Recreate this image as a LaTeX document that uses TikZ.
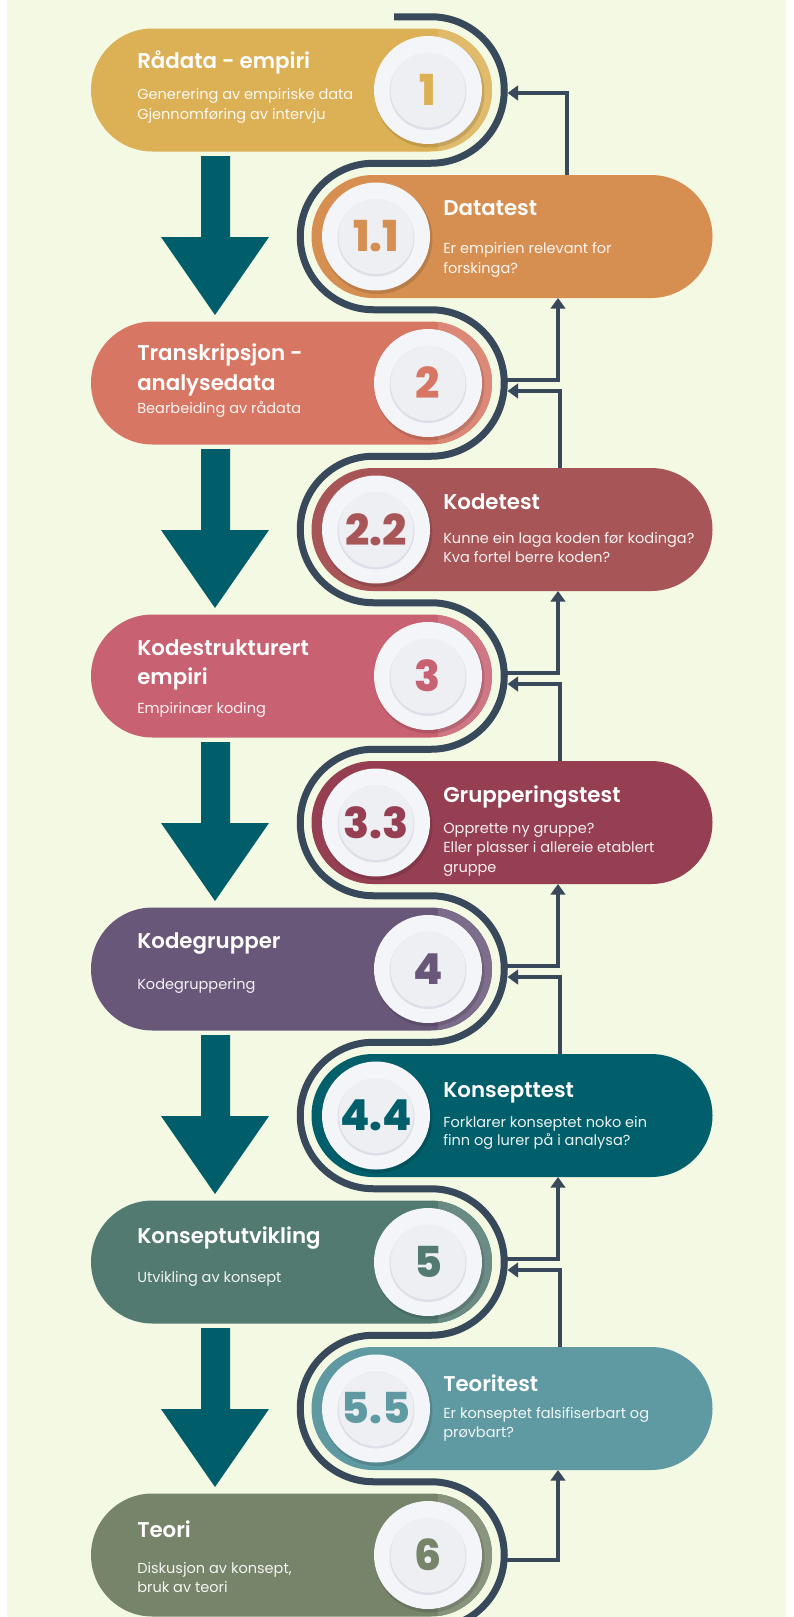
\documentclass[tikz,border=0pt]{standalone}
\usepackage{fontspec}
\setmainfont{Poppins}[BoldFont={Poppins SemiBold}]
\newfontfamily\numfont{Poppins ExtraBold}
\usetikzlibrary{arrows.meta,shapes.misc}
\definecolor{bg}{HTML}{F3F9E3}
\definecolor{lc}{HTML}{37495B}
\definecolor{arr}{HTML}{005E6A}
\definecolor{cA}{HTML}{DCB055}
\definecolor{cAA}{HTML}{D68F51}
\definecolor{cB}{HTML}{D77663}
\definecolor{cBB}{HTML}{A85557}
\definecolor{cC}{HTML}{C86172}
\definecolor{cCC}{HTML}{963F53}
\definecolor{cD}{HTML}{69577A}
\definecolor{cDD}{HTML}{005F6B}
\definecolor{cE}{HTML}{537A71}
\definecolor{cEE}{HTML}{5F9AA2}
\definecolor{cF}{HTML}{76846A}
\definecolor{plate}{HTML}{F4F5F8}
\definecolor{plin}{HTML}{EDEFF3}
\definecolor{plsh}{HTML}{DDDFE8}
\newcommand\drawplate[5]{%
  \fill[black,opacity=0.12] (#1+1.5,#2+2.5) circle (55);
  \fill[plate] (#1,#2) circle (54);
  \fill[plsh] (#1,#2+1.5) circle (38.5);
  \fill[plin] (#1,#2) circle (37.5);
  \node[num=#5] (#3) at (#1,#2) {#4};
}
\tikzset{
  pill/.style={rounded rectangle, minimum width=300.75pt, minimum height=92.25pt, inner sep=0pt, fill=#1},
  mainpill/.style={pill=#1, path picture={\shade[left color=#1, right color=#1!86!white] ([xshift=-40pt,yshift=2pt]path picture bounding box.north east) rectangle ([yshift=-2pt]path picture bounding box.south east);}},
  serp/.style={draw=lc, line width=5.25pt},
  conn/.style={draw=lc, line width=3pt},
  tip/.style={-{Triangle[width=11pt,length=8pt]}},
  ttl/.style={anchor=base west, inner sep=0pt, text=white, font=\bfseries\fontsize{16}{20}\selectfont},
  bdy/.style={anchor=base west, inner sep=0pt, text=white, text opacity=0.92, font=\fontsize{10.9}{15}\selectfont},
  num/.style={inner sep=0pt, text=#1, font=\numfont\fontsize{32}{32}\selectfont},
}
\begin{document}
\begin{tikzpicture}[x=0.75pt,y=-0.75pt]
\useasboundingbox (0,0) rectangle (793,1617);
\clip (0,0) rectangle (793,1617);
\fill[white] (0,0) rectangle (793,1617);
\fill[bg] (7,0) rectangle (786,1617);

% serpentine
\draw[serp] (394,16.75) -- (431,16.75)
  \foreach \i in {0,...,4} { arc[start angle=-90,end angle=90,radius=73.25] -- ++(-57.5,0) arc[start angle=270,end angle=90,radius=73.25] -- ++(57.5,0) }
  arc[start angle=-90,end angle=90,radius=73.25];

% pills
\node[mainpill=cA] (m1) at (291.5,90) {};
\node[pill=cAA] (t1) at (512,236.5) {};
\node[mainpill=cB] (m2) at (291.5,383) {};
\node[pill=cBB] (t2) at (512,529.5) {};
\node[mainpill=cC] (m3) at (291.5,676) {};
\node[pill=cCC] (t3) at (512,822.5) {};
\node[mainpill=cD] (m4) at (291.5,969) {};
\node[pill=cDD] (t4) at (512,1115.5) {};
\node[mainpill=cE] (m5) at (291.5,1262) {};
\node[pill=cEE] (t5) at (512,1408.5) {};
\node[mainpill=cF] (m6) at (291.5,1555) {};

% plates
\drawplate{428}{90}{n1}{1}{cA}
\drawplate{376}{236.5}{n11}{1.1}{cAA}
\drawplate{428}{383}{n2}{2}{cB}
\drawplate{376}{529.5}{n22}{2.2}{cBB}
\drawplate{428}{676}{n3}{3}{cC}
\drawplate{376}{822.5}{n33}{3.3}{cCC}
\drawplate{428}{969}{n4}{4}{cD}
\drawplate{376}{1115.5}{n44}{4.4}{cDD}
\drawplate{428}{1262}{n5}{5}{cE}
\drawplate{376}{1408.5}{n55}{5.5}{cEE}
\drawplate{428}{1555}{n6}{6}{cF}

% texts main
\node[ttl] (a1) at (137,68) {Rådata - empiri};
\node[bdy] (a1b) at (137,99) {Generering av empiriske data};
\node[bdy] (a1c) at (137,119) {Gjennomføring av intervju};
\node[ttl] (a2) at (137,360) {Transkripsjon -};
\node[ttl] (a2a) at (137,390) {analysedata};
\node[bdy] (a2b) at (137,413) {Bearbeiding av rådata};
\node[ttl] (a3) at (137,655) {Kodestrukturert};
\node[ttl] (a3a) at (137,684) {empiri};
\node[bdy] (a3b) at (137,713) {Empirinær koding};
\node[ttl] (a4) at (137,948) {Kodegrupper};
\node[bdy] (a4b) at (137,989) {Kodegruppering};
\node[ttl] (a5) at (137,1243) {Konseptutvikling};
\node[bdy] (a5b) at (137,1282) {Utvikling av konsept};
\node[ttl] (a6) at (137,1537) {Teori};
\node[bdy] (a6b) at (137,1573) {Diskusjon av konsept,};
\node[bdy] (a6c) at (137,1592) {bruk av teori};
% texts tests
\node[ttl] (b1) at (443,215) {Datatest};
\node[bdy] (b1b) at (443,253) {Er empirien relevant for};
\node[bdy] (b1c) at (443,273) {forskinga?};
\node[ttl] (b2) at (443,509) {Kodetest};
\node[bdy] (b2b) at (443,543) {Kunne ein laga koden før kodinga?};
\node[bdy] (b2c) at (443,562) {Kva fortel berre koden?};
\node[ttl] (b3) at (443,802) {Grupperingstest};
\node[bdy] (b3b) at (443,833) {Opprette ny gruppe?};
\node[bdy] (b3c) at (443,852) {Eller plasser i allereie etablert};
\node[bdy] (b3d) at (443,872) {gruppe};
\node[ttl] (b4) at (443,1097) {Konsepttest};
\node[bdy] (b4b) at (443,1127) {Forklarer konseptet noko ein};
\node[bdy] (b4c) at (443,1145) {finn og lurer på i analysa?};
\node[ttl] (b5) at (443,1391) {Teoritest};
\node[bdy] (b5b) at (443,1418) {Er konseptet falsifiserbart og};
\node[bdy] (b5c) at (443,1437) {prøvbart?};

% big down arrows
\foreach \k in {0,...,4} {
  \pgfmathsetmacro\t{156+293*\k}
  \fill[arr] (201,\t) -- (230,\t) -- (230,\t+81) -- (269,\t+81) -- (215,\t+159) -- (161,\t+81) -- (201,\t+81) -- cycle;
}

% connectors: test top -> main (arrow into serpentine)
\coordinate (u1) at (567,175);
\coordinate (v1) at (507.5,93);
\draw[conn,tip] (u1) |- (v1);
\foreach \k in {2,...,5} {
  \pgfmathsetmacro\ct{236.5+293*(\k-1)}
  \pgfmathsetmacro\cm{90+293*(\k-1)}
  \coordinate (u\k) at (560,\ct-61.5);
  \coordinate (v\k) at (507.5,\cm+8);
  \draw[conn,tip] (u\k) |- (v\k);
}
% connectors: main -> test bottom
\foreach \k in {1,...,4} {
  \pgfmathsetmacro\ct{236.5+293*(\k-1)}
  \pgfmathsetmacro\cm{90+293*\k}
  \coordinate (w\k) at (504,\cm-3);
  \coordinate (z\k) at (558,\ct+61.5);
  \draw[conn,tip] (w\k) -| (z\k);
}
\coordinate (w5) at (504,1560);
\coordinate (z5) at (558,1470);
\draw[conn,tip] (w5) -| (z5);
\end{tikzpicture}
\end{document}
